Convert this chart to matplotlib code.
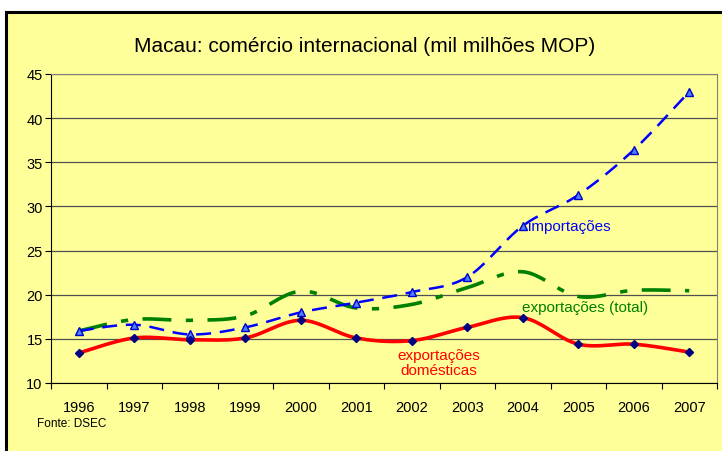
import numpy as np
import matplotlib.pyplot as plt
from matplotlib.patches import Rectangle

plt.rcParams['font.family'] = ['Liberation Sans', 'DejaVu Sans']

anos = ['1996', '1997', '1998', '1999', '2000', '2001', '2002', '2003', '2004', '2005', '2006', '2007']
importacoes = [15.9, 16.6, 15.5, 16.3, 18.0, 19.1, 20.3, 22.0, 27.8, 31.3, 36.4, 43.0]
export_total = [15.9, 17.2, 17.1, 17.6, 20.4, 18.5, 18.9, 20.8, 22.6, 19.8, 20.5, 20.45]
export_dom = [13.4, 15.1, 14.9, 15.1, 17.1, 15.1, 14.8, 16.3, 17.4, 14.4, 14.4, 13.5]


def suave(x, y, n=20):
    # curva suave tipo Excel (Catmull-Rom)
    x = np.asarray(x, float)
    y = np.asarray(y, float)
    px = np.concatenate([[x[0]], x, [x[-1]]])
    py = np.concatenate([[y[0]], y, [y[-1]]])
    xs, ys = [], []
    for i in range(1, len(px) - 2):
        t = np.linspace(0, 1, n, endpoint=False)
        p0, p1, p2, p3 = px[i-1:i+3]
        q0, q1, q2, q3 = py[i-1:i+3]
        h = [(-t**3 + 2*t**2 - t) / 2, (3*t**3 - 5*t**2 + 2) / 2,
             (-3*t**3 + 4*t**2 + t) / 2, (t**3 - t**2) / 2]
        xs.append(h[0]*p0 + h[1]*p1 + h[2]*p2 + h[3]*p3)
        ys.append(h[0]*q0 + h[1]*q1 + h[2]*q2 + h[3]*q3)
    xs.append([x[-1]])
    ys.append([y[-1]])
    return np.concatenate(xs), np.concatenate(ys)


amarelo = '#FFFF99'
fig = plt.figure(figsize=(7.22, 4.52), dpi=100)
fig.patch.set_facecolor('white')
fig.patches.append(Rectangle((6/722, -0.05), 1.0, 1.05 - 13/452, transform=fig.transFigure,
                             facecolor=amarelo, edgecolor='black', linewidth=2.2, zorder=-5))

ax = fig.add_axes([51/722, 68/452, 666/722, 309/452], zorder=2)
ax.set_facecolor(amarelo)
x = np.arange(len(anos))

xs, ys = suave(x, export_total)
ax.plot(xs, ys, color='#008000', linewidth=2.6, dashes=(8, 4, 2, 4), zorder=3)

xs, ys = suave(x, importacoes)
ax.plot(xs, ys, color='#0000FF', linewidth=1.8, dashes=(6, 3.5), zorder=4)
ax.plot(x, importacoes, linestyle='none', marker='^', markersize=5.5,
        markerfacecolor='#4D7FFF', markeredgecolor='#0000CC', zorder=5)

xs, ys = suave(x, export_dom)
ax.plot(xs, ys, color='#FF0000', linewidth=2.6, zorder=4)
ax.plot(x, export_dom, linestyle='none', marker='D', markersize=4.5,
        markerfacecolor='#000080', markeredgecolor='#000080', zorder=5)

ax.set_xlim(-0.5, len(anos) - 0.5)
ax.set_ylim(10, 45)
ax.set_yticks(range(10, 46, 5))
ax.set_xticks(np.arange(-0.5, len(anos), 1))
ax.set_xticklabels([])
ax.set_xticks(x, minor=True)
ax.set_xticklabels(anos, minor=True)
ax.tick_params(axis='x', which='minor', length=0, pad=12, labelsize=10.5)
ax.tick_params(axis='x', which='major', length=4, direction='out')
ax.tick_params(axis='y', length=4, direction='out', labelsize=10.5, pad=2)
ax.yaxis.grid(True, color='#505050', linewidth=0.9)
ax.set_axisbelow(True)
for s in ['top', 'right']:
    ax.spines[s].set_color('#808080')
ax.spines['left'].set_color('black')
ax.spines['bottom'].set_color('black')

ax.text(8.1, 27.8, 'importações', color='#0000FF', fontsize=11, va='center', ha='left')
ax.text(9.12, 18.6, 'exportações (total)', color='#008000', fontsize=11, va='center', ha='center')
ax.text(6.49, 12.3, 'exportações\ndomésticas', color='#FF0000', fontsize=11, va='center',
        ha='center', linespacing=1.05)

fig.text(365/722, 1 - 47/452, 'Macau: comércio internacional (mil milhões MOP)',
         ha='center', va='center', fontsize=15)
fig.text(37/722, 1 - 424/452, 'Fonte: DSEC', ha='left', va='center', fontsize=8.5)

fig.savefig('out.png', dpi=100)
